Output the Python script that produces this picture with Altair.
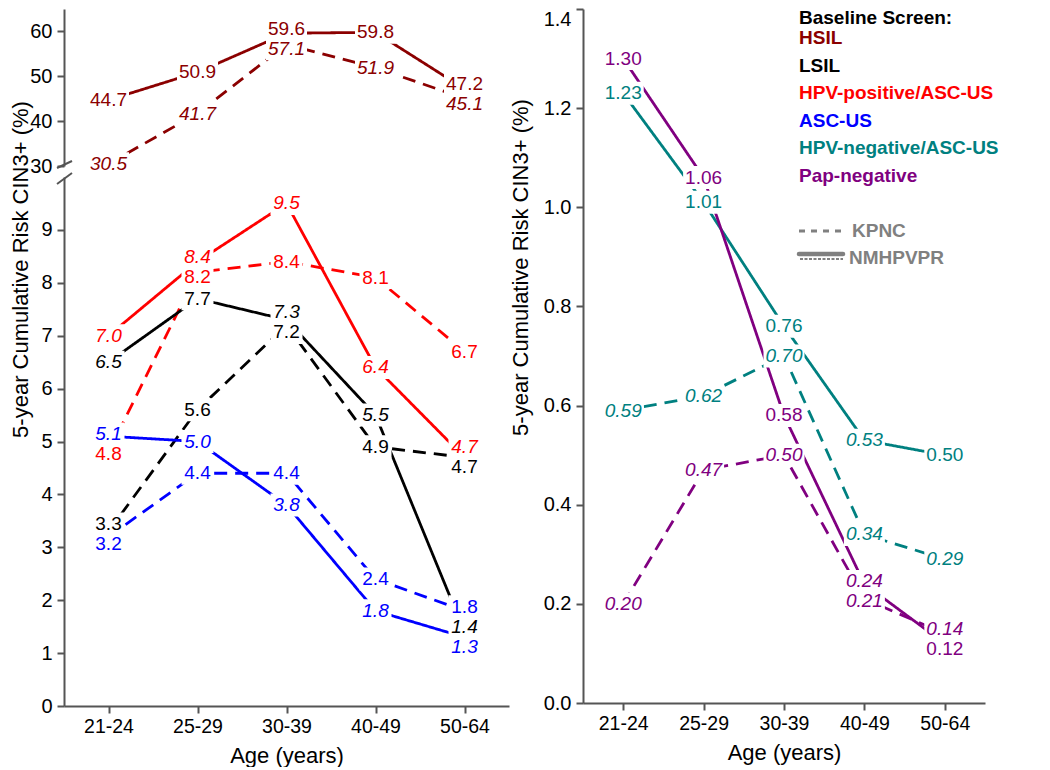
import altair as alt
import pandas as pd

categories = ["21-24", "25-29", "30-39", "40-49", "50-64"]

series_names = ["HSIL", "LSIL", "HPV-positive/ASC-US", "ASC-US",
                "HPV-negative/ASC-US", "Pap-negative"]
series_colors = ["#8B0000", "#000000", "#FF0000", "#0000FF", "#008080", "#800080"]
studies = ["KPNC", "NMHPVPR"]

# left panel values (%), NMHPVPR = solid, KPNC = dashed
hsil_nmhpvpr = [44.7, 50.9, 59.6, 59.8, 47.2]
hsil_kpnc = [30.5, 41.7, 57.1, 51.9, 45.1]
hpvpos_nmhpvpr = [7.0, 8.4, 9.5, 6.4, 4.7]
hpvpos_kpnc = [4.8, 8.2, 8.4, 8.1, 6.7]
lsil_nmhpvpr = [6.5, 7.7, 7.3, 5.5, 1.4]
lsil_kpnc = [3.3, 5.6, 7.2, 4.9, 4.7]
ascus_nmhpvpr = [5.1, 5.0, 3.8, 1.8, 1.3]
ascus_kpnc = [3.2, 4.4, 4.4, 2.4, 1.8]
# right panel values (%)
hpvneg_nmhpvpr = [1.23, 1.01, 0.76, 0.53, 0.50]
hpvneg_kpnc = [0.59, 0.62, 0.70, 0.34, 0.29]
papneg_nmhpvpr = [1.30, 1.06, 0.58, 0.24, 0.12]
papneg_kpnc = [0.20, 0.47, 0.50, 0.21, 0.14]

# label style flags (1 = italic label)
hsil_nmhpvpr_it = [0, 0, 0, 0, 0]
hsil_kpnc_it = [1, 1, 1, 1, 1]
hpvpos_nmhpvpr_it = [1, 1, 1, 1, 1]
hpvpos_kpnc_it = [0, 0, 0, 0, 0]
lsil_nmhpvpr_it = [1, 0, 1, 1, 1]
lsil_kpnc_it = [0, 0, 0, 0, 0]
ascus_nmhpvpr_it = [1, 1, 1, 1, 1]
ascus_kpnc_it = [0, 0, 0, 0, 0]
hpvneg_nmhpvpr_it = [0, 0, 0, 1, 0]
hpvneg_kpnc_it = [1, 1, 1, 1, 1]
papneg_nmhpvpr_it = [0, 0, 0, 1, 0]
papneg_kpnc_it = [1, 1, 1, 1, 1]

FONT = "Liberation Sans"
AXIS_COLOR = "#555555"

# geometry
LEFT_W = 445
UP_H = 157
LOW_H = 529
RIGHT_W = 402
RIGHT_H = 694


def build(entries, decimals):
    rows = []
    order = 0
    for series, study, vals, its in entries:
        for c, v, it in zip(categories, vals, its):
            rows.append(dict(series=series, study=study, cat=c, value=v,
                             italic=it, label=f"{v:.{decimals}f}", order=order))
        order += 1
    return pd.DataFrame(rows)


def nudge(df, ppu, min_sep=20.0):
    df = df.copy()
    df["ly"] = df["value"]
    for cat, grp in df.groupby("cat"):
        idx = sorted(grp.index, key=lambda i: (-df.at[i, "value"], df.at[i, "order"]))
        pos = [-df.at[i, "value"] * ppu for i in idx]
        for _ in range(100):
            moved = False
            for k in range(len(pos) - 1):
                gap = pos[k + 1] - pos[k]
                if gap < min_sep - 1e-6:
                    d = (min_sep - gap) / 2
                    pos[k] -= d
                    pos[k + 1] += d
                    moved = True
            if not moved:
                break
        for i, p in zip(idx, pos):
            df.at[i, "ly"] = -p / ppu
    return df


upper_df = nudge(build([
    ("HSIL", "NMHPVPR", hsil_nmhpvpr, hsil_nmhpvpr_it),
    ("HSIL", "KPNC", hsil_kpnc, hsil_kpnc_it),
], 1), UP_H / 35.0)

lower_df = nudge(build([
    ("HPV-positive/ASC-US", "NMHPVPR", hpvpos_nmhpvpr, hpvpos_nmhpvpr_it),
    ("HPV-positive/ASC-US", "KPNC", hpvpos_kpnc, hpvpos_kpnc_it),
    ("LSIL", "NMHPVPR", lsil_nmhpvpr, lsil_nmhpvpr_it),
    ("LSIL", "KPNC", lsil_kpnc, lsil_kpnc_it),
    ("ASC-US", "NMHPVPR", ascus_nmhpvpr, ascus_nmhpvpr_it),
    ("ASC-US", "KPNC", ascus_kpnc, ascus_kpnc_it),
], 1), LOW_H / 10.0)

right_df = nudge(build([
    ("HPV-negative/ASC-US", "NMHPVPR", hpvneg_nmhpvpr, hpvneg_nmhpvpr_it),
    ("Pap-negative", "NMHPVPR", papneg_nmhpvpr, papneg_nmhpvpr_it),
    ("HPV-negative/ASC-US", "KPNC", hpvneg_kpnc, hpvneg_kpnc_it),
    ("Pap-negative", "KPNC", papneg_kpnc, papneg_kpnc_it),
], 2), RIGHT_H / 1.4)

color_scale = alt.Scale(domain=series_names, range=series_colors)
dash_scale = alt.Scale(domain=studies, range=[[13, 8], [1, 0]])

# white boxes that cut the lines around the value labels
BOX3 = "M-1,-0.72L1,-0.72L1,0.72L-1,0.72Z"      # 3-character labels (32 x 23 px)
BOX4 = "M-1,-0.56L1,-0.56L1,0.56L-1,0.56Z"      # 4-character labels (41 x 23 px)


def panel(df, ydomain, yticks, width, height, show_x, fmt, ytitle=None,
          title_x=-32, title_y=None, extra=None, top_flush=False):
    if show_x:
        xaxis = alt.Axis(title="Age (years)", labelAngle=0, titlePadding=10)
    else:
        xaxis = None
    x = alt.X("cat:N", sort=categories,
              scale=alt.Scale(type="point", padding=0.5, domain=categories),
              axis=xaxis)
    axis_kw = dict(values=yticks, labelPadding=5, format=fmt)
    if top_flush:
        axis_kw["labelBaseline"] = {"condition": {"test": f"datum.value >= {ydomain[1]} - 1e-9",
                                                  "value": "top"},
                                    "value": "middle"}
    if ytitle:
        axis_kw.update(title=ytitle, titleX=title_x, titleY=title_y,
                       titleAlign="center", titleBaseline="bottom")
    else:
        axis_kw.update(title=None)
    yaxis = alt.Axis(**axis_kw)
    yscale = alt.Scale(domain=ydomain, nice=False, zero=False)

    def yenc(field):
        return alt.Y(f"{field}:Q", scale=yscale, axis=yaxis,
                     title=ytitle if ytitle else None)

    color = alt.Color("series:N", scale=color_scale, legend=None)
    base = alt.Chart(df)
    lines = base.mark_line(strokeWidth=2.8).encode(
        x=x, y=yenc("value"), color=color,
        strokeDash=alt.StrokeDash("study:N", scale=dash_scale, legend=None),
        detail="study:N")
    layers = [lines]
    for n, path, w in ((3, BOX3, 32), (4, BOX4, 41)):
        layers.append(base.transform_filter(f"length(datum.label) == {n}").mark_point(
            shape=path, filled=True, fill="white", opacity=1, strokeWidth=0,
            size=w * w).encode(x=x, y=yenc("ly")))
    for it in (0, 1):
        style = "italic" if it else "normal"
        layers.append(base.transform_filter(f"datum.italic == {it}").mark_text(
            font=FONT, fontSize=19, fontStyle=style, baseline="middle",
            align="center").encode(x=x, y=yenc("ly"), text="label:N", color=color))
    if extra:
        layers.extend(extra)
    return alt.layer(*layers).properties(width=width, height=height)


one = pd.DataFrame({"a": [0]})


def brk(x1, y1, x2, y2):
    return alt.Chart(one).mark_rule(color=AXIS_COLOR, strokeWidth=2).encode(
        x=alt.value(x1), y=alt.value(y1), x2=alt.value(x2), y2=alt.value(y2))


upper = panel(upper_df, [30, 65], [30, 40, 50, 60], LEFT_W, UP_H, False, "d",
              extra=[brk(-7, UP_H + 2, 8, UP_H - 5)])
lower = panel(lower_df, [0, 10], list(range(10)), LEFT_W, LOW_H, True, "d",
              ytitle="5-year Cumulative Risk CIN3+ (%)", title_x=-32, title_y=92,
              extra=[brk(-7, 7, 8, -4)])

# legend drawn inside the right panel
LX = 216
legend_layers = [alt.Chart(one).mark_text(
    text="Baseline Screen:", font=FONT, fontSize=19, fontWeight="bold",
    align="left", baseline="top", color="#000000").encode(
    x=alt.value(LX), y=alt.value(0))]
for i, (name, col) in enumerate(zip(series_names, series_colors)):
    legend_layers.append(alt.Chart(one).mark_text(
        text=name, font=FONT, fontSize=19, fontWeight="bold", align="left",
        baseline="middle", color=col).encode(
        x=alt.value(LX), y=alt.value(29 + i * 27.5)))
legend_layers.append(alt.Chart(one).mark_rule(
    color="#808080", strokeWidth=3, strokeDash=[6, 6]).encode(
    x=alt.value(LX), x2=alt.value(LX + 42), y=alt.value(222)))
legend_layers.append(alt.Chart(one).mark_text(
    text="KPNC", font=FONT, fontSize=19, fontWeight="bold", align="left",
    baseline="middle", color="#808080").encode(x=alt.value(LX + 53), y=alt.value(222)))
legend_layers.append(alt.Chart(one).mark_rule(
    color="#808080", strokeWidth=4.5, strokeCap="round").encode(
    x=alt.value(LX), x2=alt.value(LX + 44), y=alt.value(245)))
legend_layers.append(alt.Chart(one).mark_rule(
    color="#808080", strokeWidth=2, strokeDash=[3, 1.5]).encode(
    x=alt.value(LX + 1), x2=alt.value(LX + 44), y=alt.value(250)))
legend_layers.append(alt.Chart(one).mark_text(
    text="NMHPVPR", font=FONT, fontSize=19, fontWeight="bold", align="left",
    baseline="middle", color="#808080").encode(x=alt.value(LX + 50), y=alt.value(249)))

right = panel(right_df, [0, 1.4], [0, 0.2, 0.4, 0.6, 0.8, 1.0, 1.2, 1.4],
              RIGHT_W, RIGHT_H, True, ".1f",
              ytitle="5-year Cumulative Risk CIN3+ (%)", title_x=-51, title_y=258,
              extra=legend_layers, top_flush=True)

left = alt.vconcat(upper, lower, spacing=11, bounds="flush")

chart = alt.hconcat(left, right, spacing=0).properties(padding=0).configure_view(
    stroke=None).configure_axis(
    grid=False, domainColor=AXIS_COLOR, domainWidth=2, tickColor=AXIS_COLOR,
    tickWidth=2, tickSize=7, labelFont=FONT, labelFontSize=20,
    labelColor="#000000", titleFont=FONT, titleFontSize=22,
    titleFontWeight="normal", titleColor="#000000").configure_axisX(
    labelFontSize=19.5, labelPadding=4)

chart.save("out.html", embed_options={"renderer": "svg", "actions": False})
